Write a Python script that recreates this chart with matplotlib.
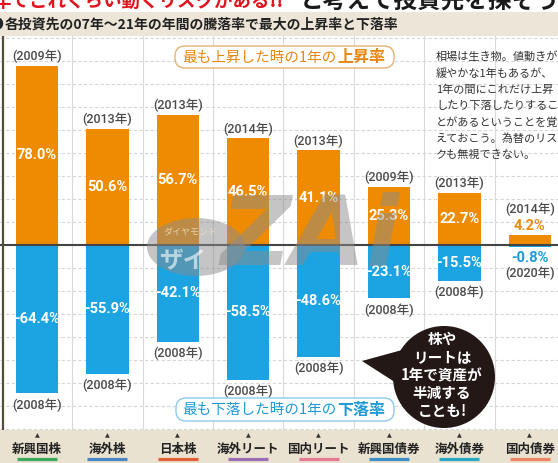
import matplotlib as mpl
mpl.use('Agg')
import matplotlib.pyplot as plt
import numpy as np
from matplotlib.patches import FancyBboxPatch, Circle, Polygon, Ellipse, Rectangle

plt.rcParams['font.family'] = ['Noto Sans CJK JP', 'DejaVu Sans']

# data ########################################

categories = ['新興国株', '海外株', '日本株', '海外リート', '国内リート', '新興国債券', '海外債券', '国内債券']
max_up = [78.0, 50.6, 56.7, 46.5, 41.1, 25.3, 22.7, 4.2]
up_year = [2009, 2013, 2013, 2014, 2013, 2009, 2013, 2014]
max_down = [-64.4, -55.9, -42.1, -58.5, -48.6, -23.1, -15.5, -0.8]
down_year = [2008, 2008, 2008, 2008, 2008, 2008, 2008, 2020]
cat_colors = ['#3BAA5C', '#4A86C5', '#E0603A', '#9B6BB5', '#E57A93', '#3C8FC9', '#27A9C6', '#EB8565']

note = ['相場は生き物。値動きが', '緩やかな1年もあるが、', '1年の間にこれだけ上昇',
        'したり下落したりするこ', 'とがあるということを覚', 'えておこう。為替のリス',
        'クも無視できない。']
bubble = ['株や', 'リートは', '1年で資産が', '半減する', 'ことも!']

ORANGE = '#EE8B00'
BLUE = '#1BA3E2'
NUM = ['Roboto', 'Noto Sans CJK JP']
YEAR_C = '#4A4A4A'

# layout (pixels) #############################

W, H = 558, 463
x0, dx = 37, 70.4      # first bar centre, column step
y0, k = 245, 2.3       # zero line, px per %
top, bot = 36, 430

fig = plt.figure(figsize=(W/100, H/100), dpi=100)

bg = fig.add_axes([0, 0, 1, 1], zorder=0)
bg.set_xlim(0, W); bg.set_ylim(H, 0); bg.axis('off')
bg.add_patch(Rectangle((0, 12), W, top-12, color='#EDE6D8', lw=0))
bg.add_patch(Rectangle((0, bot), W, H-bot, color='#EAE2D0', lw=0))

ax = fig.add_axes([0, (H-bot)/H, 1, (bot-top)/H], zorder=1)
ax.set_facecolor('none')
ax.set_xlim(-x0/dx, (W-x0)/dx)
ax.set_ylim(-(bot-y0)/k, (y0-top)/k)
for s in ax.spines.values():
    s.set_visible(False)
ax.set_yticks(np.arange(-80, 91, 10))
ax.set_xticks(np.arange(0.5, 7, 1))
ax.tick_params(length=0, labelleft=False, labelbottom=False)
ax.grid(axis='y', color='#D6D6D6', lw=0.8, ls=(0, (3, 2)))
ax.grid(axis='x', color='#DADADA', lw=0.8)

x = np.arange(len(categories))
ax.bar(x, max_up, width=0.6, color=ORANGE, zorder=2)
ax.bar(x, max_down, width=0.6, color=BLUE, zorder=2)
ax.axhline(0, color='#444444', lw=1.5, zorder=3)
ax.axvline((3-x0)/dx, color='#5A4A3A', lw=1.6, zorder=3)

for i in x:
    u, d = max_up[i], max_down[i]
    if u >= 10:
        ax.text(i, u/2, '%.1f%%' % u, color='white', ha='center', va='center',
                fontsize=10.5, fontweight='bold', family=NUM, zorder=4)
        ax.annotate('(%d年)' % up_year[i], (i, u), xytext=(0, 6.5), textcoords='offset points',
                    ha='center', va='center', fontsize=9, fontweight='medium', color=YEAR_C, family=NUM)
    else:
        ax.annotate('%.1f%%' % u, (i, u), xytext=(0, 6.5), textcoords='offset points',
                    ha='center', va='center', fontsize=10.5, fontweight='bold', color='#E98B12', family=NUM)
        ax.annotate('(%d年)' % up_year[i], (i, u), xytext=(0, 19), textcoords='offset points',
                    ha='center', va='center', fontsize=9, fontweight='medium', color=YEAR_C, family=NUM)
    if d <= -10:
        ax.text(i, d/2, '%.1f%%' % d, color='white', ha='center', va='center',
                fontsize=10.5, fontweight='bold', family=NUM, zorder=4)
        ax.annotate('(%d年)' % down_year[i], (i, d), xytext=(0, -8.5), textcoords='offset points',
                    ha='center', va='center', fontsize=9, fontweight='medium', color=YEAR_C, family=NUM)
    else:
        ax.annotate('%.1f%%' % d, (i, d), xytext=(0, -8), textcoords='offset points',
                    ha='center', va='center', fontsize=10.5, fontweight='bold', color='#1A9BD7', family=NUM)
        ax.annotate('(%d年)' % down_year[i], (i, d), xytext=(0, -19), textcoords='offset points',
                    ha='center', va='center', fontsize=9, fontweight='medium', color=YEAR_C, family=NUM)

# decorations #################################

fg = fig.add_axes([0, 0, 1, 1], zorder=2)
fg.set_xlim(0, W); fg.set_ylim(H, 0); fg.axis('off')

# headline, cut off at the top
fg.text(-8, 1, '年でこれくらい動くリスクがある!!', color='#E0141E', fontsize=13.3,
        fontweight='bold', ha='left', va='center')
fg.text(300, 0, 'と考えて投資先を探そう', color='#1A1A1A', fontsize=17,
        fontweight='bold', ha='left', va='center')

fg.text(3, 25, '●', fontsize=10, ha='right', va='center', color='#222222')
fg.text(5, 25, '各投資先の07年～21年の年間の騰落率で最大の上昇率と下落率',
        fontsize=10, fontweight='bold', ha='left', va='center', color='#222222')

# watermark
fg.add_patch(Ellipse((196, 247), 98, 58, color='#8C8C8C', alpha=0.5, lw=0))
fg.text(190, 233, 'ダイヤモンド', fontsize=6.5, color='#F2E2C8', alpha=0.8, ha='center', va='center')
fg.text(183, 260, 'ザイ', fontsize=17, fontweight='bold', color='white', alpha=0.6, ha='center', va='center')
fg.text(310, 238, 'ZAi', fontsize=70, fontweight='bold', style='italic', family='DejaVu Sans',
        color='#8C8C8C', alpha=0.5, ha='center', va='center')

# labelled boxes
fg.add_patch(FancyBboxPatch((175, 46), 219, 22, boxstyle='round,pad=0,rounding_size=10',
                            fc='white', ec='#E6B273', lw=1))
fg.text(337, 57.5, '最も上昇した時の1年の', fontsize=10.5, color='#E8870F', ha='right', va='center')
fg.text(337, 57, '上昇率', fontsize=11.5, fontweight='bold', color='#E8870F', ha='left', va='center')
fg.add_patch(FancyBboxPatch((176, 398), 218, 23, boxstyle='round,pad=0,rounding_size=10',
                            fc='white', ec='#8CCBEA', lw=1))
fg.text(337, 410, '最も下落した時の1年の', fontsize=10.5, color='#1E9AD6', ha='right', va='center')
fg.text(337, 409.5, '下落率', fontsize=11.5, fontweight='bold', color='#1E9AD6', ha='left', va='center')

for j, line in enumerate(note):
    fg.text(436, 57 + 16.3*j, line, fontsize=8, color='#333333', ha='left', va='center')

# speech bubble
fg.add_patch(Polygon([(402, 350), (362, 361), (404, 388)], closed=True, color='#231815', lw=0))
fg.add_patch(Circle((444, 377), 51, color='#231815', lw=0))
for j, line in enumerate(bubble):
    fg.text(442, 339 + 18*j, line, fontsize=10.5, fontweight='bold', color='white',
            ha='center', va='center')

# category strip
for i, (c, col) in enumerate(zip(categories, cat_colors)):
    cx = x0 + dx*i
    fg.text(cx, 435.5, '▲', fontsize=4.5, color='#333333', ha='center', va='center', family='DejaVu Sans')
    fg.text(cx, 449, c, fontsize=9, fontweight='bold', color='#222222', ha='center', va='center')
    fg.plot([cx-20, cx+20], [458.5, 458.5], color=col, lw=2.3, solid_capstyle='butt')

plt.savefig('out.png', dpi=100)
